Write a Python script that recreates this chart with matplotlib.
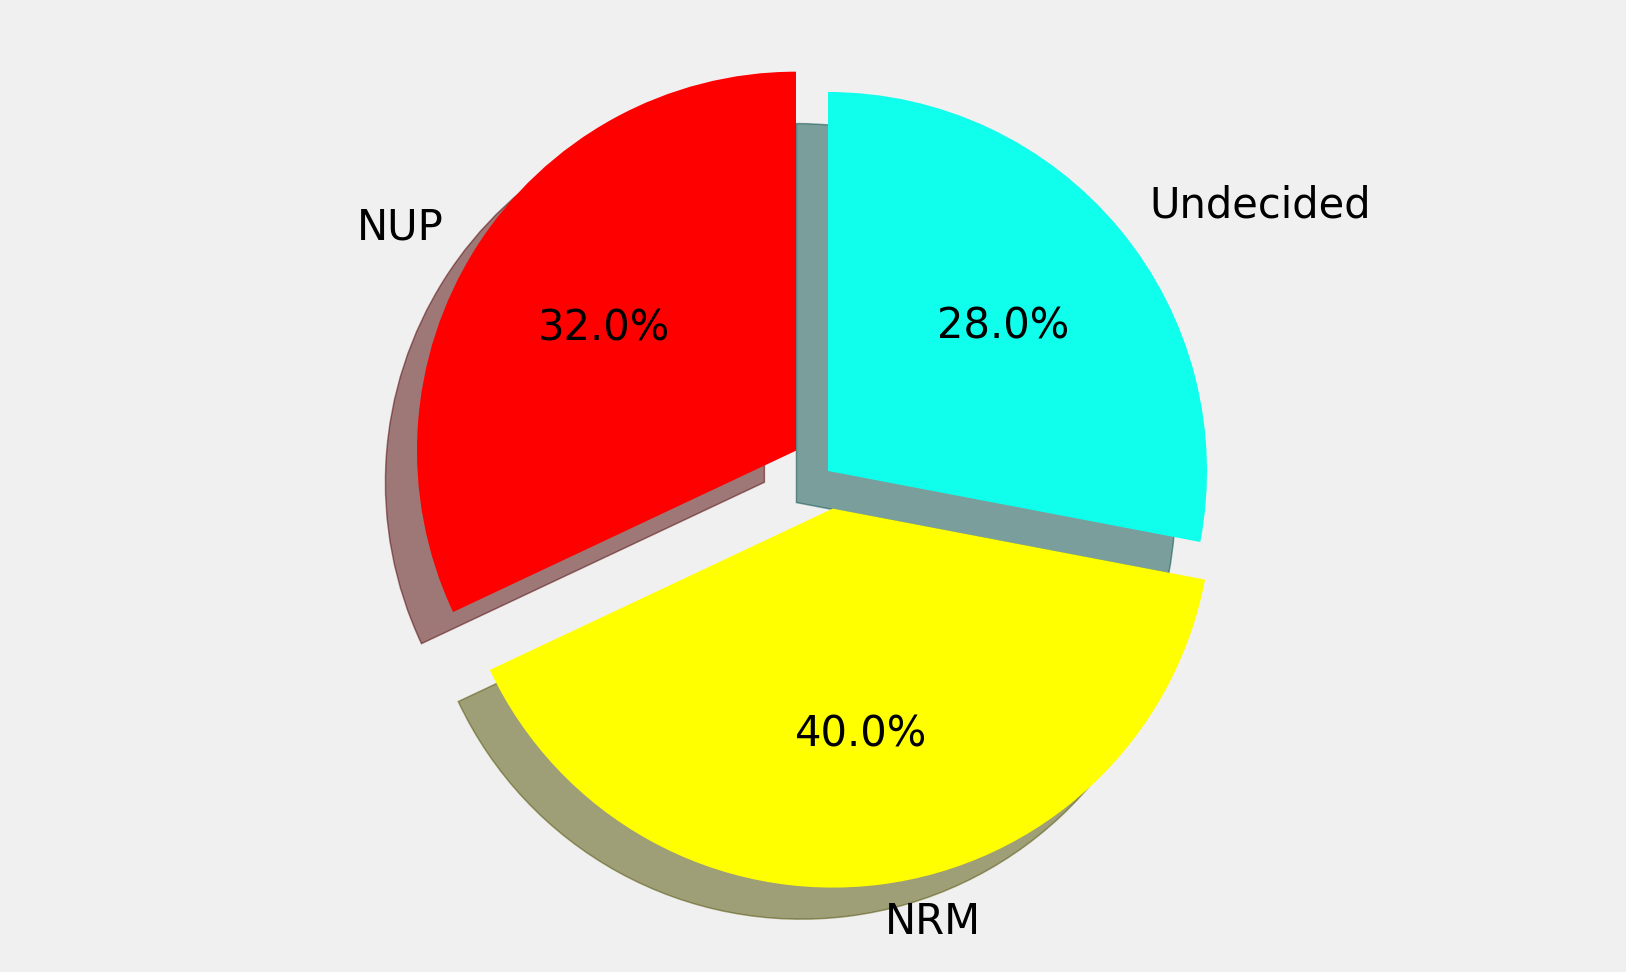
import matplotlib
matplotlib.use("Agg")
import matplotlib.pyplot as plt

labels = ["NUP", "NRM", "Undecided"]
shares = [32, 40, 28]
colors = ["#ff0000", "#ffff00", "#10ffec"]
explode = [0.1, 0.1, 0.0]

fig = plt.figure(figsize=(5.42, 3.24), dpi=300, facecolor="#f0f0f0")
ax = fig.add_axes([0, 0, 1, 1])
ax.set_facecolor("#f0f0f0")
ax.pie(shares, labels=labels, colors=colors, explode=explode,
       autopct="%1.1f%%", startangle=90,
       shadow={"ox": -0.02, "oy": -0.02, "linewidth": 0.35},
       textprops={"fontsize": 10})
ax.set_aspect("auto")
ax.set_xlim(-2.1847, 2.1055)
ax.set_ylim(-1.3219, 1.2427)
ax.axis("off")
fig.savefig("out.png", dpi=300, facecolor="#f0f0f0")
